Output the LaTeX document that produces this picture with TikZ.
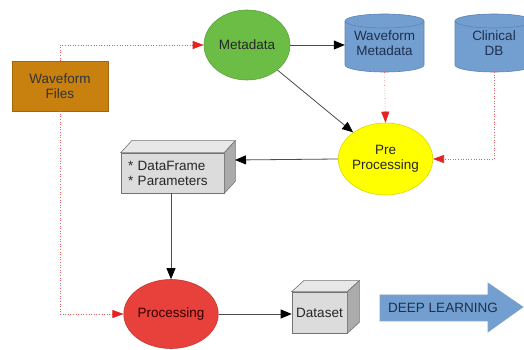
\documentclass[tikz,border=0pt]{standalone}
\usepackage{fontspec}
\setmainfont{Liberation Sans}
\usetikzlibrary{arrows.meta,shapes.geometric,calc}
\definecolor{wfbrown}{HTML}{C8810F}
\definecolor{metagreen}{HTML}{6CBD45}
\definecolor{cylblue}{HTML}{729FCF}
\definecolor{cyledge}{HTML}{3465A4}
\definecolor{preyellow}{HTML}{FFFF00}
\definecolor{procred}{HTML}{E8413C}
\definecolor{boxgray}{HTML}{DCDCDC}
\definecolor{boxtop}{HTML}{E8E8E8}
\definecolor{boxside}{HTML}{ABABAB}
\definecolor{dotred}{HTML}{E06060}
\definecolor{tipred}{HTML}{E32222}
\definecolor{navy}{HTML}{1E2F4F}
\begin{document}
\begin{tikzpicture}[x=1pt,y=1pt,
  font=\fontsize{13.5}{15}\selectfont,
  every node/.style={inner sep=0pt,align=center,text=black!85},
  oval/.style={ellipse,draw,line width=0.6pt},
  boxface/.style={draw=black!55,line width=0.6pt},
  flow/.style={draw=black!70,line width=0.8pt,-{Triangle[length=11pt,width=9pt,color=black]}},
  dataflow/.style={draw=dotred,line width=0.6pt,dotted,-{Triangle[length=11pt,width=8pt,color=tipred]}},
  cylbody/.style={fill=cylblue,draw=cyledge!80,line width=0.6pt}
]
\useasboundingbox (0,0) rectangle (524,350);
\clip (0,0) rectangle (524,350);
\fill[white] (0,0) rectangle (524,350);

% Waveform Files
\node[draw=wfbrown!80!black,fill=wfbrown,minimum width=96,minimum height=50,text=black!80] (wf) at (60,264) {Waveform\\Files};

% Metadata
\node[oval,draw=metagreen!85!black,fill=metagreen,minimum width=86,minimum height=70] (meta) at (247,305) {Metadata};

% Waveform Metadata cylinder
\filldraw[cylbody] (345,329) -- (345,285) arc[start angle=180,end angle=360,x radius=39.5,y radius=7] -- (424,329) arc[start angle=0,end angle=180,x radius=39.5,y radius=7] -- cycle;
\draw[cyledge!80,line width=0.6pt] (345,329) arc[start angle=180,end angle=360,x radius=39.5,y radius=7];
\node[minimum width=79,minimum height=58,text=navy] (wm) at (384.5,307) {Waveform\\Metadata};

% Clinical DB cylinder
\filldraw[cylbody] (455,329) -- (455,285) arc[start angle=180,end angle=360,x radius=39,y radius=7] -- (533,329) arc[start angle=0,end angle=180,x radius=39,y radius=7] -- cycle;
\draw[cyledge!80,line width=0.6pt] (455,329) arc[start angle=180,end angle=360,x radius=39,y radius=7];
\node[minimum width=78,minimum height=58,text=navy] (cdb) at (494,307) {Clinical\\DB};

% Pre Processing
\node[oval,draw=preyellow!85!black,fill=preyellow,minimum width=83,minimum height=72] (pre) at (385.5,191) {Pre\\Processing};

% DataFrame box
\node[boxface,fill=boxgray,minimum width=103,minimum height=40,text width=89pt,align=left,inner xsep=7pt] (df) at (172.5,177) {* DataFrame\\{}* Parameters};
\filldraw[boxface,fill=boxtop] (df.north west) -- ($(df.north west)+(11,12)$) -- ($(df.north east)+(11,12)$) -- (df.north east) -- cycle;
\filldraw[boxface,fill=boxside] (df.south east) -- ($(df.south east)+(11,12)$) -- ($(df.north east)+(11,12)$) -- (df.north east) -- cycle;
\coordinate (dfside) at (235,190);

% Processing
\node[oval,draw=procred!85!black,fill=procred,minimum width=84,minimum height=69,text=black!80!red] (proc) at (171,36) {Processing};

% Dataset box
\node[boxface,fill=boxgray,minimum width=55,minimum height=41] (ds) at (319.5,37.5) {Dataset};
\filldraw[boxface,fill=boxtop] (ds.north west) -- ($(ds.north west)+(12,11)$) -- ($(ds.north east)+(12,11)$) -- (ds.north east) -- cycle;
\filldraw[boxface,fill=boxside] (ds.south east) -- ($(ds.south east)+(12,11)$) -- ($(ds.north east)+(12,11)$) -- (ds.north east) -- cycle;

% DEEP LEARNING arrow
\filldraw[fill=cylblue,draw=cyledge!60,line width=0.6pt] (380,29) -- (488,29) -- (488,18) -- (523,43) -- (488,67) -- (488,55) -- (380,55) -- cycle;
\node[text=navy] (dl) at (443,42) {DEEP LEARNING};

% connectors
\draw[flow] (meta.east) -- (meta.east -| wm.west);
\draw[flow] (meta) -- (pre);
\draw[dataflow] (wm.south) -- (pre.north);
\draw[dataflow] (cdb.south) |- (pre.east);
\draw[flow] (pre.west) -- (dfside);
\draw[flow] (df.south -| proc.north) -- (proc.north);
\draw[dataflow] (wf.north) |- (meta.west);
\draw[dataflow] (wf.south) |- (proc.west);
\draw[flow] (proc.east) -- (proc.east -| ds.west);
\end{tikzpicture}
\end{document}
